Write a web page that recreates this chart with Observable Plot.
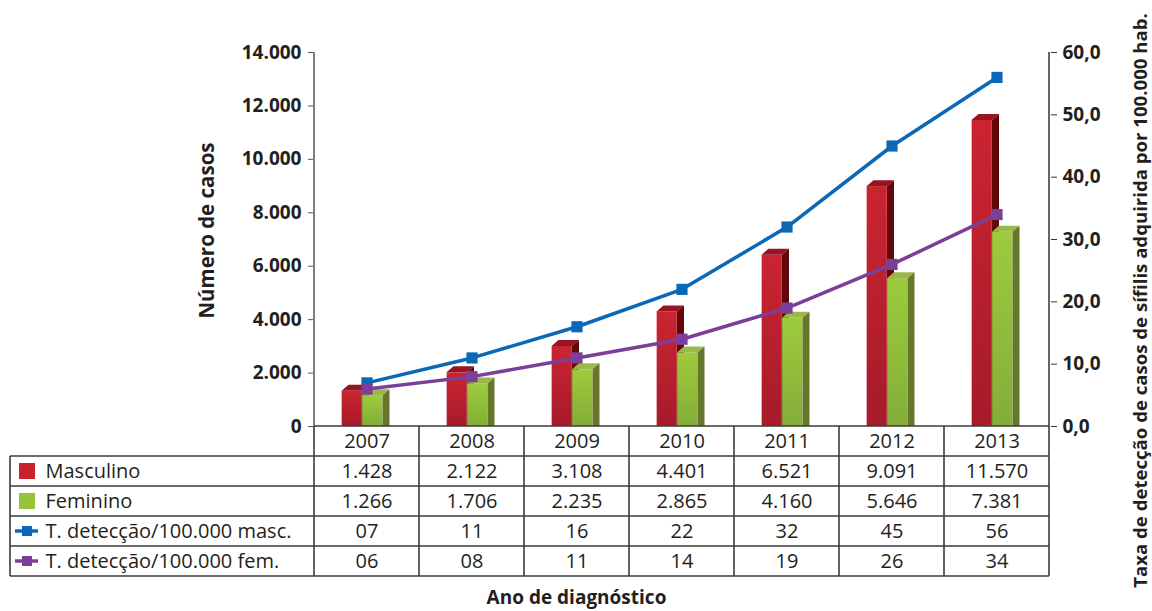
<!DOCTYPE html>
<html>
<head>
<meta charset="utf-8">
<script src="https://cdn.jsdelivr.net/npm/d3@7"></script>
<script src="https://cdn.jsdelivr.net/npm/@observablehq/plot@0.6"></script>
<style>
  html, body { margin: 0; padding: 0; background: #fff; }
  #chart { width: 1152px; height: 611px; }
</style>
</head>
<body>
<div id="chart"></div>
<script>
// ---- data ----
const years = ["2007", "2008", "2009", "2010", "2011", "2012", "2013"];
const masculino = [1428, 2122, 3108, 4401, 6521, 9091, 11570];
const feminino = [1266, 1706, 2235, 2865, 4160, 5646, 7381];
const taxaMasc = [7, 11, 16, 22, 32, 45, 56];
const taxaFem = [6, 8, 11, 14, 19, 26, 34];
const rowLabels = ["Masculino", "Feminino", "T. detecção/100.000 masc.", "T. detecção/100.000 fem."];
const casosTicks = [0, 2000, 4000, 6000, 8000, 10000, 12000, 14000];
const taxaTicks = [0, 10, 20, 30, 40, 50, 60];
const yLabelLeft = "Número de casos";
const yLabelRight = "Taxa de detecção de casos de sífilis adquirida por 100.000 hab.";
const xLabel = "Ano de diagnóstico";

// ---- styling / layout ----
const W = 1152, H = 611;
const ML = 313, MR = 102, MT = 52, MB = 185;
const ROW_H = 30, TABLE_LEFT = 10;
const Y_MAX = 14000, RATE_MAX = 60;
const toY = r => r * Y_MAX / RATE_MAX;
const FONT = "'Open Sans', 'Noto Sans', sans-serif";
const INK = "#231f20", GRID = "#3b3b3b";
const BLUE = "#0a68b6", PURPLE = "#7c3f99";
const RED = "#c8222f", GREEN = "#97c43b";
const DEPTH_X = 7, DEPTH_Y = 6;

const ptBR = d3.formatLocale({decimal: ",", thousands: ".", grouping: [3], currency: ["R$ ", ""]});
const fmtInt = ptBR.format(",d");
const fmtRate = ptBR.format(".1f");
const fmt2 = d3.format("02d");

const rows = years.map((year, i) => ({year, masc: masculino[i], fem: feminino[i], tm: taxaMasc[i], tf: taxaFem[i]}));
const tableRows = [
  {label: rowLabels[0], key: "masc", fmt: fmtInt, kind: "box", color: RED},
  {label: rowLabels[1], key: "fem", fmt: fmtInt, kind: "box", color: GREEN},
  {label: rowLabels[2], key: "tm", fmt: fmt2, kind: "line", color: BLUE},
  {label: rowLabels[3], key: "tf", fmt: fmt2, kind: "line", color: PURPLE}
];

const bw = (W - ML - MR) / years.length;
// bar geometry relative to band centre (px)
const M_L = -25, M_R = -4.5, F_L = -4.5, F_R = 16;

// gradient defs
const defsMark = () => {
  const svg = d3.create("svg:defs");
  const g1 = svg.append("linearGradient").attr("id", "gRed").attr("x1", 0).attr("x2", 0).attr("y1", 0).attr("y2", 1);
  g1.append("stop").attr("offset", "0%").attr("stop-color", "#cb2431");
  g1.append("stop").attr("offset", "100%").attr("stop-color", "#a61b2a");
  const g2 = svg.append("linearGradient").attr("id", "gGreen").attr("x1", 0).attr("x2", 0).attr("y1", 0).attr("y2", 1);
  g2.append("stop").attr("offset", "0%").attr("stop-color", "#9dcb3c");
  g2.append("stop").attr("offset", "100%").attr("stop-color", "#84ad38");
  return svg.node();
};

// 3D top and side faces, positioned through Plot's scales
function facesMark(key, left, right, topColor, sideColor) {
  return (index, scales) => {
    const g = d3.create("svg:g");
    if (!scales || !scales.x || !scales.y) return g.node();
    const x = scales.x, y = scales.y;
    const b = x.bandwidth ? x.bandwidth() : bw;
    const y0 = y(0);
    for (const d of rows) {
      const c = x(d.year) + b / 2;
      const xl = c + left, xr = c + right;
      const yf = y(d[key]) + DEPTH_Y / 2;
      g.append("polygon")
        .attr("points", [[xl, yf], [xl + DEPTH_X, yf - DEPTH_Y], [xr + DEPTH_X, yf - DEPTH_Y], [xr, yf]].join(" "))
        .attr("fill", topColor);
      g.append("polygon")
        .attr("points", [[xr, yf], [xr + DEPTH_X, yf - DEPTH_Y], [xr + DEPTH_X, y0], [xr, y0]].join(" "))
        .attr("fill", sideColor);
    }
    return g.node();
  };
}

// spines + data table grid + legend keys
const frameMark = (index, scales) => {
  const g = d3.create("svg:g").attr("fill", "none");
  if (!scales || !scales.x || !scales.y) return g.node();
  const x = scales.x, y = scales.y;
  const b = x.bandwidth ? x.bandwidth() : bw;
  const y0 = y(0), yTop = y(Y_MAX);
  const xR = x(years[years.length - 1]) + b;
  const yEnd = y0 + ROW_H * (tableRows.length + 1);
  const line = (x1, y1, x2, y2, c, w) => g.append("line").attr("x1", x1).attr("y1", y1).attr("x2", x2).attr("y2", y2)
    .attr("stroke", c).attr("stroke-width", w);
  // axes spines
  line(x(years[0]), yTop, x(years[0]), y0, "#555", 1.5);
  line(xR, yTop, xR, y0, "#333", 1.5);
  line(x(years[0]), y0, xR, y0, GRID, 1.5);
  // table grid
  for (let k = 1; k <= tableRows.length + 1; k++) line(TABLE_LEFT, y0 + ROW_H * k, xR, y0 + ROW_H * k, GRID, 1.6);
  for (const yr of years) line(x(yr), y0, x(yr), yEnd, GRID, 1.6);
  line(xR, y0, xR, yEnd, GRID, 1.6);
  line(TABLE_LEFT, y0 + ROW_H, TABLE_LEFT, yEnd, GRID, 1.6);
  // legend keys
  tableRows.forEach((r, i) => {
    const cy = y0 + ROW_H * (i + 1) + ROW_H / 2;
    if (r.kind === "box") {
      g.append("rect").attr("x", 19).attr("y", cy - 8).attr("width", 16).attr("height", 16).attr("fill", r.color);
    } else {
      line(15, cy, 38, cy, r.color, 3.5);
      g.append("rect").attr("x", 22).attr("y", cy - 5).attr("width", 10).attr("height", 10).attr("fill", r.color);
    }
  });
  return g.node();
};

const tableTextMarks = tableRows.flatMap((r, i) => [
  Plot.text(rows, {
    x: "year", text: d => r.fmt(d[r.key]), frameAnchor: "bottom",
    dy: ROW_H * (i + 1) + ROW_H / 2, lineAnchor: "middle", fontSize: 20, fill: INK
  }),
  Plot.text([r.label], {
    text: d => d, frameAnchor: "bottom-left", textAnchor: "start",
    dx: 45 - ML, dy: ROW_H * (i + 1) + ROW_H / 2, lineAnchor: "middle", fontSize: 20, fill: INK
  })
]);

const chart = Plot.plot({
  width: W, height: H,
  marginLeft: ML, marginRight: MR, marginTop: MT, marginBottom: MB,
  style: {fontFamily: FONT, color: INK, background: "#fff"},
  x: {domain: years, padding: 0},
  y: {domain: [0, Y_MAX]},
  marks: [
    defsMark,
    Plot.axisY({ticks: casosTicks, tickFormat: fmtInt, tickSize: 5, tickPadding: 7, fontSize: 19, fontWeight: "bold", label: null, stroke: "#555"}),
    Plot.axisY({anchor: "right", ticks: taxaTicks.map(toY), tickFormat: v => fmtRate(v * RATE_MAX / Y_MAX), tickSize: 6, tickPadding: 6, fontSize: 19, fontWeight: "bold", label: null, stroke: "#333"}),
    Plot.axisX({tickSize: 0, tickPadding: 7, fontSize: 20, label: null}),
    Plot.barY(rows, {x: "year", y: "masc", fill: "url(#gRed)", insetTop: DEPTH_Y / 2, insetLeft: bw / 2 + M_L, insetRight: bw / 2 - M_R}),
    facesMark("masc", M_L, M_R, "#961521", "#640709"),
    Plot.barY(rows, {x: "year", y: "fem", fill: "url(#gGreen)", insetTop: DEPTH_Y / 2, insetLeft: bw / 2 + F_L, insetRight: bw / 2 - F_R}),
    facesMark("fem", F_L, F_R, "#9cb84a", "#66762a"),
    Plot.line(rows, {x: "year", y: d => toY(d.tm), stroke: BLUE, strokeWidth: 3.5}),
    Plot.dot(rows, {x: "year", y: d => toY(d.tm), symbol: "square", r: 6.3, fill: BLUE}),
    Plot.line(rows, {x: "year", y: d => toY(d.tf), stroke: PURPLE, strokeWidth: 3.5}),
    Plot.dot(rows, {x: "year", y: d => toY(d.tf), symbol: "square", r: 6.3, fill: PURPLE}),
    frameMark,
    ...tableTextMarks,
    Plot.text([yLabelLeft], {text: d => d, frameAnchor: "left", textAnchor: "middle", lineAnchor: "middle", dx: -106, dy: -9, rotate: -90, fontSize: 20.5, fontWeight: "bold", fill: INK}),
    Plot.text([yLabelRight], {text: d => d, frameAnchor: "right", textAnchor: "middle", lineAnchor: "middle", dx: 91, dy: 61, rotate: -90, fontSize: 18.6, fontWeight: "bold", fill: INK}),
    Plot.text([xLabel], {text: d => d, frameAnchor: "bottom", dx: 576 - (ML + (W - MR)) / 2, dy: 177, fontSize: 19, fontWeight: "bold", fill: INK})
  ]
});
document.getElementById("chart").appendChild(chart);
</script>
</body>
</html>
